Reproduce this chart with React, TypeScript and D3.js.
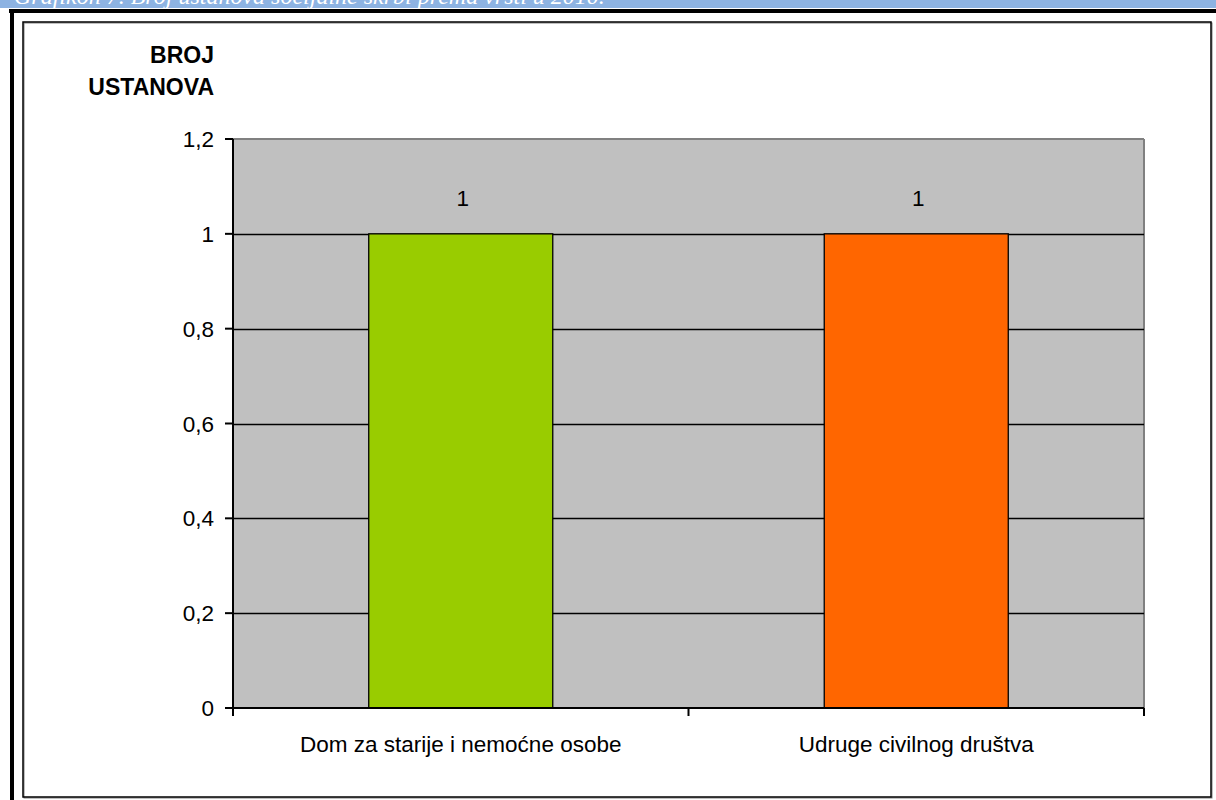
import React from "react";
import * as d3 from "d3";

const categories = ["Dom za starije i nemoćne osobe", "Udruge civilnog društva"];
const values = [1, 1];
const barColors = ["#99CC00", "#FF6600"];
const yTicks = [0, 0.2, 0.4, 0.6, 0.8, 1, 1.2];
const yTitle = ["BROJ", "USTANOVA"];
const bannerText = "Grafikon 7. Broj ustanova socijalne skrbi prema vrsti u 2010.";

const W = 1216;
const H = 800;
const plot = { left: 233, right: 1144, top: 139, bottom: 708 };
const FONT = "Arial, 'Liberation Sans', Helvetica, sans-serif";
const FS = 22.5;
const fmt = (v: number) => String(+v.toFixed(1)).replace(".", ",");

export default function App() {
  const y = d3.scaleLinear().domain([0, 1.2]).range([plot.bottom, plot.top]);
  const x = d3.scaleBand<string>().domain(categories).range([plot.left, plot.right]).paddingInner(0).paddingOuter(0);
  const barW = x.bandwidth() * 0.404;
  const xTickPos = [plot.left, ...categories.map((c) => (x(c) as number) + x.bandwidth())];

  return (
    <svg width={W} height={H} style={{ position: "absolute", left: 0, top: 0, display: "block" }}>
      <defs>
        <clipPath id="banner">
          <rect x={0} y={0} width={W} height={8} />
        </clipPath>
      </defs>
      <rect x={0} y={0} width={W} height={H} fill="#fff" />
      {/* banner */}
      <rect x={0} y={0} width={W} height={8} fill="#8DB3E2" />
      <g clipPath="url(#banner)">
        <text x={14} y={4} fill="#fff" fontFamily="'Liberation Serif', serif" fontStyle="italic" fontSize={24}>
          {bannerText}
        </text>
      </g>
      {/* outer frame */}
      <rect x={9} y={9} width={W} height={4} fill="#000" />
      <rect x={10} y={9} width={4} height={H} fill="#000" />
      {/* inner frame */}
      <rect x={23} y={22} width={1188} height={775} fill="none" stroke="#808080" strokeWidth={1} transform="translate(1,1)" />
      <rect x={23} y={22} width={1188} height={775} fill="none" stroke="#000" strokeWidth={1.5} />
      {/* plot background */}
      <rect x={plot.left} y={plot.top} width={plot.right - plot.left} height={plot.bottom - plot.top} fill="#C0C0C0" />
      <line x1={plot.left} x2={plot.right} y1={plot.top} y2={plot.top} stroke="#808080" strokeWidth={2} />
      <line x1={plot.right} x2={plot.right} y1={plot.top} y2={plot.bottom} stroke="#808080" strokeWidth={2} />
      {/* gridlines */}
      {yTicks.filter((t) => t > 0 && t < 1.2).map((t) => (
        <line key={t} x1={plot.left} x2={plot.right} y1={Math.round(y(t)) + 0.5} y2={Math.round(y(t)) + 0.5} stroke="#000" strokeWidth={1.3} />
      ))}
      {/* bars */}
      {categories.map((c, i) => {
        const cx = (x(c) as number) + x.bandwidth() / 2;
        return (
          <g key={c}>
            <rect x={cx - barW / 2} y={y(values[i])} width={barW} height={y(0) - y(values[i])} fill={barColors[i]} stroke="#000" strokeWidth={1.3} />
            <text x={cx + 2} y={y(values[i]) - 28} textAnchor="middle" fontFamily={FONT} fontSize={FS} fill="#000">
              {fmt(values[i])}
            </text>
            <text x={cx} y={752} textAnchor="middle" fontFamily={FONT} fontSize={FS} fill="#000">
              {c}
            </text>
          </g>
        );
      })}
      {/* y axis */}
      <line x1={plot.left} x2={plot.left} y1={plot.top} y2={plot.bottom} stroke="#000" strokeWidth={2} />
      {yTicks.map((t) => (
        <g key={t}>
          <line x1={plot.left - 8} x2={plot.left} y1={y(t)} y2={y(t)} stroke="#000" strokeWidth={2} />
          <text x={214} y={y(t) + 8} textAnchor="end" fontFamily={FONT} fontSize={FS} fill="#000">
            {fmt(t)}
          </text>
        </g>
      ))}
      {/* x axis */}
      <line x1={plot.left} x2={plot.right} y1={plot.bottom} y2={plot.bottom} stroke="#000" strokeWidth={2} />
      {xTickPos.map((p, i) => (
        <line key={i} x1={p} x2={p} y1={plot.bottom} y2={plot.bottom + 8} stroke="#000" strokeWidth={2} />
      ))}
      {/* y title */}
      {yTitle.map((s, i) => (
        <text key={s} x={214} y={63 + i * 32} textAnchor="end" fontFamily={FONT} fontWeight="bold" fontSize={23} fill="#000">
          {s}
        </text>
      ))}
    </svg>
  );
}
